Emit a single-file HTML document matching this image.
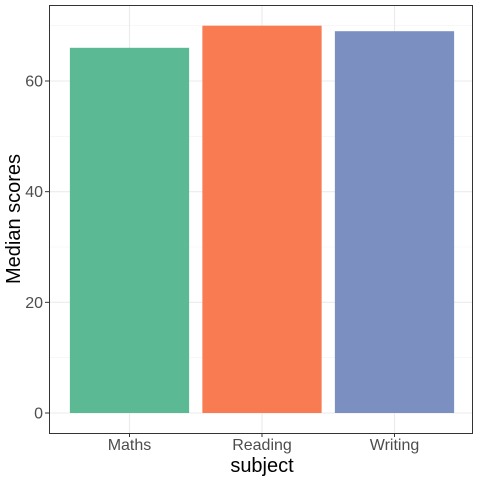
<!DOCTYPE html>
<html><head><meta charset="utf-8"><style>body{margin:0;background:#fff}svg{display:block;font-family:"Liberation Sans",sans-serif}</style></head>
<body>
<svg id="chart" width="480" height="480">
<rect x="0" y="0" width="480" height="480" fill="#fff"/>
<g id="grid"></g><g id="bars"></g><g id="axes"></g>
<rect x="49.5" y="5.5" width="423" height="428" fill="none" stroke="#333" stroke-width="1"/>
<text x="262" y="472" font-size="20" text-anchor="middle" fill="#000">subject</text>
<text transform="translate(20,219) rotate(-90)" font-size="20" text-anchor="middle" fill="#000">Median scores</text>
</svg>
<script>
const categories=["Maths","Reading","Writing"];
const values=[66,70,69];
const colors=["#5BBA93","#F87B52","#7B8FC0"];
const yTicks=[0,20,40,60];
const yMinor=[10,30,50,70];
const ns="http://www.w3.org/2000/svg";
const pl=49,pr=473,pt=5,pb=433;
const y0=413,ppu=(413-81)/60;
const y=v=>y0-v*ppu;
const step=(pr-pl)/(categories.length+0.2);
const x=i=>pl+1+step*(0.6+i);
const bw=step*0.9;
function mk(p,t,a){const e=document.createElementNS(ns,t);for(const k in a)e.setAttribute(k,a[k]);document.getElementById(p).appendChild(e);return e;}
yMinor.forEach(v=>{const e=mk("grid","line",{x1:pl,x2:pr,y1:y(v),y2:y(v),stroke:"#f2f2f2","stroke-width":0.6});

});
yTicks.forEach(v=>{const e=mk("grid","line",{x1:pl,x2:pr,y1:y(v),y2:y(v),stroke:"#ebebeb","stroke-width":1.1});


const t=mk("axes","text",{x:43,y:y(v)+5.5,"font-size":16,"text-anchor":"end",fill:"#4d4d4d"});t.textContent=v;


const k=mk("axes","line",{x1:45,x2:49,y1:y(v),y2:y(v),stroke:"#333"});

});
categories.forEach((c,i)=>{const g=mk("grid","line",{x1:x(i),x2:x(i),y1:pt,y2:pb,stroke:"#ebebeb","stroke-width":1.1});


const b=mk("bars","rect",{x:x(i)-bw/2,y:y(values[i]),width:bw,height:y0-y(values[i]),fill:colors[i]});


const k=mk("axes","line",{x1:x(i),x2:x(i),y1:pb,y2:pb+4,stroke:"#333"});


const t=mk("axes","text",{x:x(i),y:450,"font-size":16,"text-anchor":"middle",fill:"#4d4d4d"});t.textContent=c;

});
</script>
</body></html>
